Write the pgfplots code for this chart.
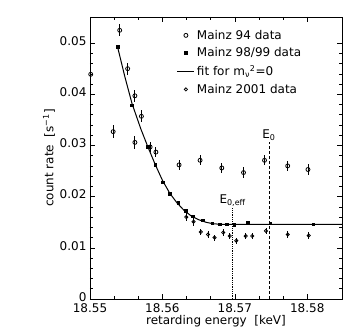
\documentclass[border=0pt]{standalone}
\usepackage{fontspec}
\setmainfont{DejaVu Sans}
\usepackage{pgfplots}
\pgfplotsset{compat=1.18}
\newcommand{\fs}{\fontsize{12}{14}\selectfont}
\begin{document}
\begin{tikzpicture}
\begin{axis}[
  scale only axis, width=252pt, height=282pt,
  xmin=18.55, xmax=18.5848, ymin=0, ymax=0.0551,
  xtick={18.55,18.56,18.57,18.58},
  ytick={0,0.01,0.02,0.03,0.04,0.05},
  minor x tick num=2, minor y tick num=4,
  scaled ticks=false,
  xticklabel style={/pgf/number format/fixed,/pgf/number format/precision=2,/pgf/number format/fixed zerofill, yshift=-1.5pt},
  yticklabel style={/pgf/number format/fixed,/pgf/number format/precision=2, yshift=2pt},
  /pgf/number format/assume math mode=true,
  tick label style={font=\fs},
  label style={font=\fs},
  xlabel={retarding energy\ \ [keV]},
  ylabel={count rate\ \ [s\textsuperscript{−1}]},
  xlabel style={yshift=5pt},
  ylabel style={yshift=-2pt},
  axis line style={line width=0.8pt},
  tick style={line width=0.6pt, black},
  major tick length=5pt, minor tick length=3pt,
  clip=false,
  legend style={draw=none, fill=none, font=\fs, at={(0.34,0.965)}, anchor=north west, row sep=3pt, inner sep=1pt},
  legend cell align=left,
]
% Mainz 94
\addplot[only marks, mark=o, mark size=2pt, black, thick,
  error bars/.cd, y dir=both, y explicit, error bar style={black, thick}, error mark=none]
  table[x=x, y=y, y error=e]{
x y e
18.5501 0.0439 0.0015
18.5532 0.0327 0.0012
18.5541 0.0525 0.0012
18.5552 0.0450 0.0012
18.5562 0.0397 0.0012
18.5562 0.0306 0.0012
18.5571 0.0357 0.0012
18.5583 0.0297 0.0010
18.5591 0.0287 0.0010
18.5623 0.0262 0.0010
18.5652 0.0271 0.0010
18.5682 0.0256 0.0010
18.5712 0.0247 0.0010
18.5741 0.0271 0.0010
18.5773 0.0260 0.0010
18.5801 0.0253 0.0010
};
\addlegendentry{Mainz 94 data}
% Mainz 98/99
\addplot[only marks, mark=square*, mark size=1.3pt, black]
  coordinates {
(18.5538,0.0493) (18.5558,0.0379) (18.5580,0.0297) (18.5590,0.0262)
(18.5600,0.0228) (18.5610,0.0206) (18.5622,0.0188) (18.5632,0.0172)
(18.5642,0.0162) (18.5656,0.0154) (18.5669,0.0148) (18.5679,0.0146)
(18.5689,0.0146) (18.5699,0.0145) (18.5718,0.0150) (18.5749,0.0148)
(18.5808,0.0146)
};
\addlegendentry{Mainz 98/99 data}
% fit
\addplot[black, line width=1pt, no marks]
  coordinates {
(18.5538,0.0493) (18.5548,0.0435) (18.5558,0.0382) (18.5570,0.0333)
(18.5580,0.0297) (18.5590,0.0263) (18.5600,0.0232) (18.5610,0.0207)
(18.5620,0.0188) (18.5630,0.0173) (18.5640,0.0162) (18.5650,0.0155)
(18.5660,0.0150) (18.5670,0.0147) (18.5680,0.0146) (18.5848,0.0146)
};
\addlegendentry{fit for m\textsubscript{ν}\textsuperscript{2}=0}
% Mainz 2001
\addplot[only marks, mark=o, mark size=1.6pt, black, thick,
  error bars/.cd, y dir=both, y explicit, error bar style={black, thick}, error mark=none]
  table[x=x, y=y, y error=e]{
x y e
18.5633 0.0160 0.0008
18.5643 0.0151 0.0008
18.5653 0.0131 0.0006
18.5663 0.0126 0.0006
18.5672 0.0120 0.0006
18.5684 0.0130 0.0006
18.5693 0.0123 0.0006
18.5702 0.0114 0.0006
18.5715 0.0123 0.0006
18.5724 0.0123 0.0006
18.5743 0.0133 0.0006
18.5773 0.0126 0.0006
18.5802 0.0124 0.0006
};
\addlegendentry{Mainz 2001 data}
% dashed markers
\addplot[black, densely dashed, thin, forget plot] coordinates {(18.5747,0) (18.5747,0.0307)};
\addplot[black, densely dotted, thick, forget plot] coordinates {(18.5697,0) (18.5697,0.0178)};
\node[font=\fs, above, inner sep=1pt] at (axis cs:18.5747,0.0307) {E\textsubscript{0}};
\node[font=\fs, above, inner sep=1pt] at (axis cs:18.5697,0.0178) {E\textsubscript{0,eff}};
\end{axis}
\useasboundingbox (current axis.south west) ++(-90pt,-37pt) rectangle ++(360pt,336pt);
\end{tikzpicture}
\end{document}
